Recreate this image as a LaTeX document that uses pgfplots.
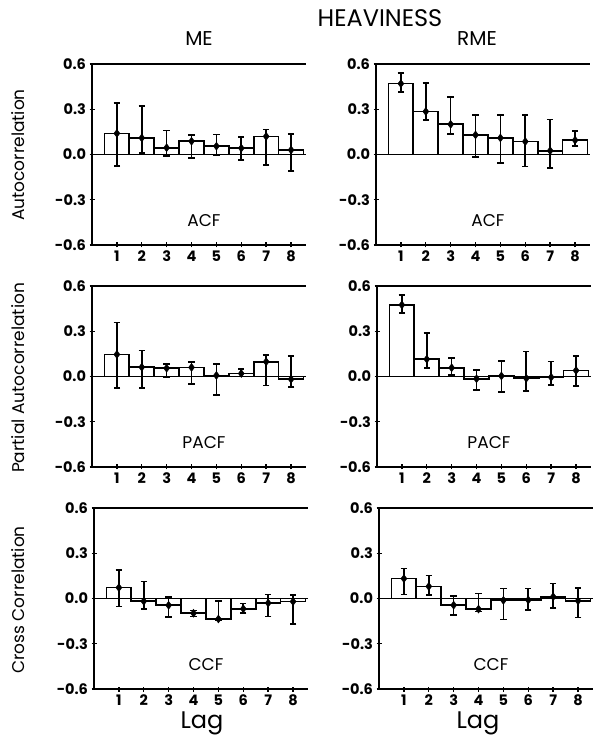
\documentclass[border=0pt]{standalone}
\usepackage{fontspec}
\setmainfont{Poppins}
\usepackage{pgfplots}
\usepackage{pgfplotstable}
\pgfplotsset{compat=1.18}

% columns: lag, value, upper end of error bar, lower end of error bar
\pgfplotstableread{
x y hi lo
1 0.140 0.340 -0.078
2 0.110 0.320 0.010
3 0.045 0.160 -0.010
4 0.088 0.130 -0.022
5 0.055 0.133 -0.007
6 0.042 0.115 -0.038
7 0.120 0.167 -0.071
8 0.030 0.136 -0.111
}\meacf
\pgfplotstableread{
x y hi lo
1 0.470 0.540 0.414
2 0.285 0.473 0.227
3 0.200 0.382 0.136
4 0.130 0.261 -0.018
5 0.110 0.261 -0.057
6 0.086 0.261 -0.080
7 0.025 0.232 -0.091
8 0.095 0.155 0.057
}\rmeacf
\pgfplotstableread{
x y hi lo
1 0.146 0.358 -0.075
2 0.062 0.172 -0.075
3 0.055 0.084 -0.005
4 0.060 0.095 -0.049
5 0.007 0.084 -0.121
6 0.020 0.049 0.000
7 0.098 0.143 -0.060
8 -0.018 0.135 -0.070
}\mepacf
\pgfplotstableread{
x y hi lo
1 0.475 0.540 0.420
2 0.115 0.287 0.055
3 0.058 0.121 0.011
4 -0.015 0.044 -0.088
5 0.004 0.104 -0.104
6 -0.012 0.166 -0.095
7 -0.005 0.100 -0.055
8 0.040 0.137 -0.062
}\rmepacf
\pgfplotstableread{
x y hi lo
1 0.072 0.188 -0.052
2 -0.018 0.113 -0.068
3 -0.045 0.011 -0.124
4 -0.098 -0.080 -0.120
5 -0.136 -0.018 -0.147
6 -0.068 -0.034 -0.095
7 -0.030 0.027 -0.120
8 -0.020 0.023 -0.170
}\meccf
\pgfplotstableread{
x y hi lo
1 0.132 0.198 0.027
2 0.080 0.152 0.022
3 -0.044 0.016 -0.109
4 -0.070 0.032 -0.086
5 -0.012 0.066 -0.139
6 -0.010 0.066 -0.075
7 0.012 0.100 -0.064
8 -0.015 0.068 -0.127
}\rmeccf

\pgfplotsset{
  panel/.style={
    scale only axis, width=214pt, height=181pt,
    anchor=south west,
    xmin=0, xmax=8.6, ymin=-0.6, ymax=0.6,
    ytick={-0.6,-0.3,0,0.3,0.6}, xtick={1,2,3,4,5,6,7,8},
    axis x line*=bottom, axis y line*=left,
    axis line style={line width=1.8pt,-},
    tick align=center, major tick length=5pt,
    every tick/.style={black, line width=1.4pt},
    yticklabel style={/pgf/number format/.cd, fixed, fixed zerofill, precision=1},
    tick label style={font=\fontsize{14.5}{14.5}\selectfont\bfseries},
    /pgf/number format/assume math mode=true,
    clip=false,
  },
  bars/.style={ybar, bar width=1, fill=white, draw=black, line width=1.7pt},
  pts/.style={only marks, mark=diamond*, mark size=4pt, black,
    error bars/.cd, y dir=both, y explicit,
    error bar style={line width=1.6pt},
    error mark=|,
    error mark options={line width=1.6pt, mark size=3.2pt}},
}

\newcommand{\panel}[4]{%
  \begin{axis}[panel, at={(#1pt,#2pt)}]
    \addplot[bars] table[x=x, y=y]{#3};
    \draw[line width=1.8pt] (axis cs:0,0) -- (axis cs:8.6,0);
    \draw[line width=1.8pt] (rel axis cs:0,1) -- (rel axis cs:1,1);
    \addplot[pts] table[x=x, y=y,
      y error plus expr=\thisrow{hi}-\thisrow{y},
      y error minus expr=\thisrow{y}-\thisrow{lo}]{#3};
    \node[font=\fontsize{17}{17}\selectfont] at (axis cs:4.5,-0.44) {#4};
  \end{axis}}

\begin{document}
\begin{tikzpicture}
\path[use as bounding box] (0pt,0pt) rectangle (606pt,740pt);
\panel{92}{495}{\meacf}{ACF}
\panel{376}{495}{\rmeacf}{ACF}
\panel{92}{273}{\mepacf}{PACF}
\panel{377}{273}{\rmepacf}{PACF}
\panel{94}{51}{\meccf}{CCF}
\panel{379}{51}{\rmeccf}{CCF}
\node[font=\fontsize{24}{24}\selectfont] at (380pt,722pt) {HEAVINESS};
\node[font=\fontsize{20}{20}\selectfont] at (199pt,701pt) {ME};
\node[font=\fontsize{20}{20}\selectfont] at (477pt,701pt) {RME};
\node[font=\fontsize{17}{17}\selectfont, rotate=90] at (18pt,585pt) {Autocorrelation};
\node[font=\fontsize{17}{17}\selectfont, rotate=90] at (18pt,362pt) {Partial Autocorrelation};
\node[font=\fontsize{17}{17}\selectfont, rotate=90] at (18pt,140pt) {Cross Correlation};
\node[font=\fontsize{24}{24}\selectfont] at (202pt,17pt) {Lag};
\node[font=\fontsize{24}{24}\selectfont] at (478pt,17pt) {Lag};
\end{tikzpicture}
\end{document}
